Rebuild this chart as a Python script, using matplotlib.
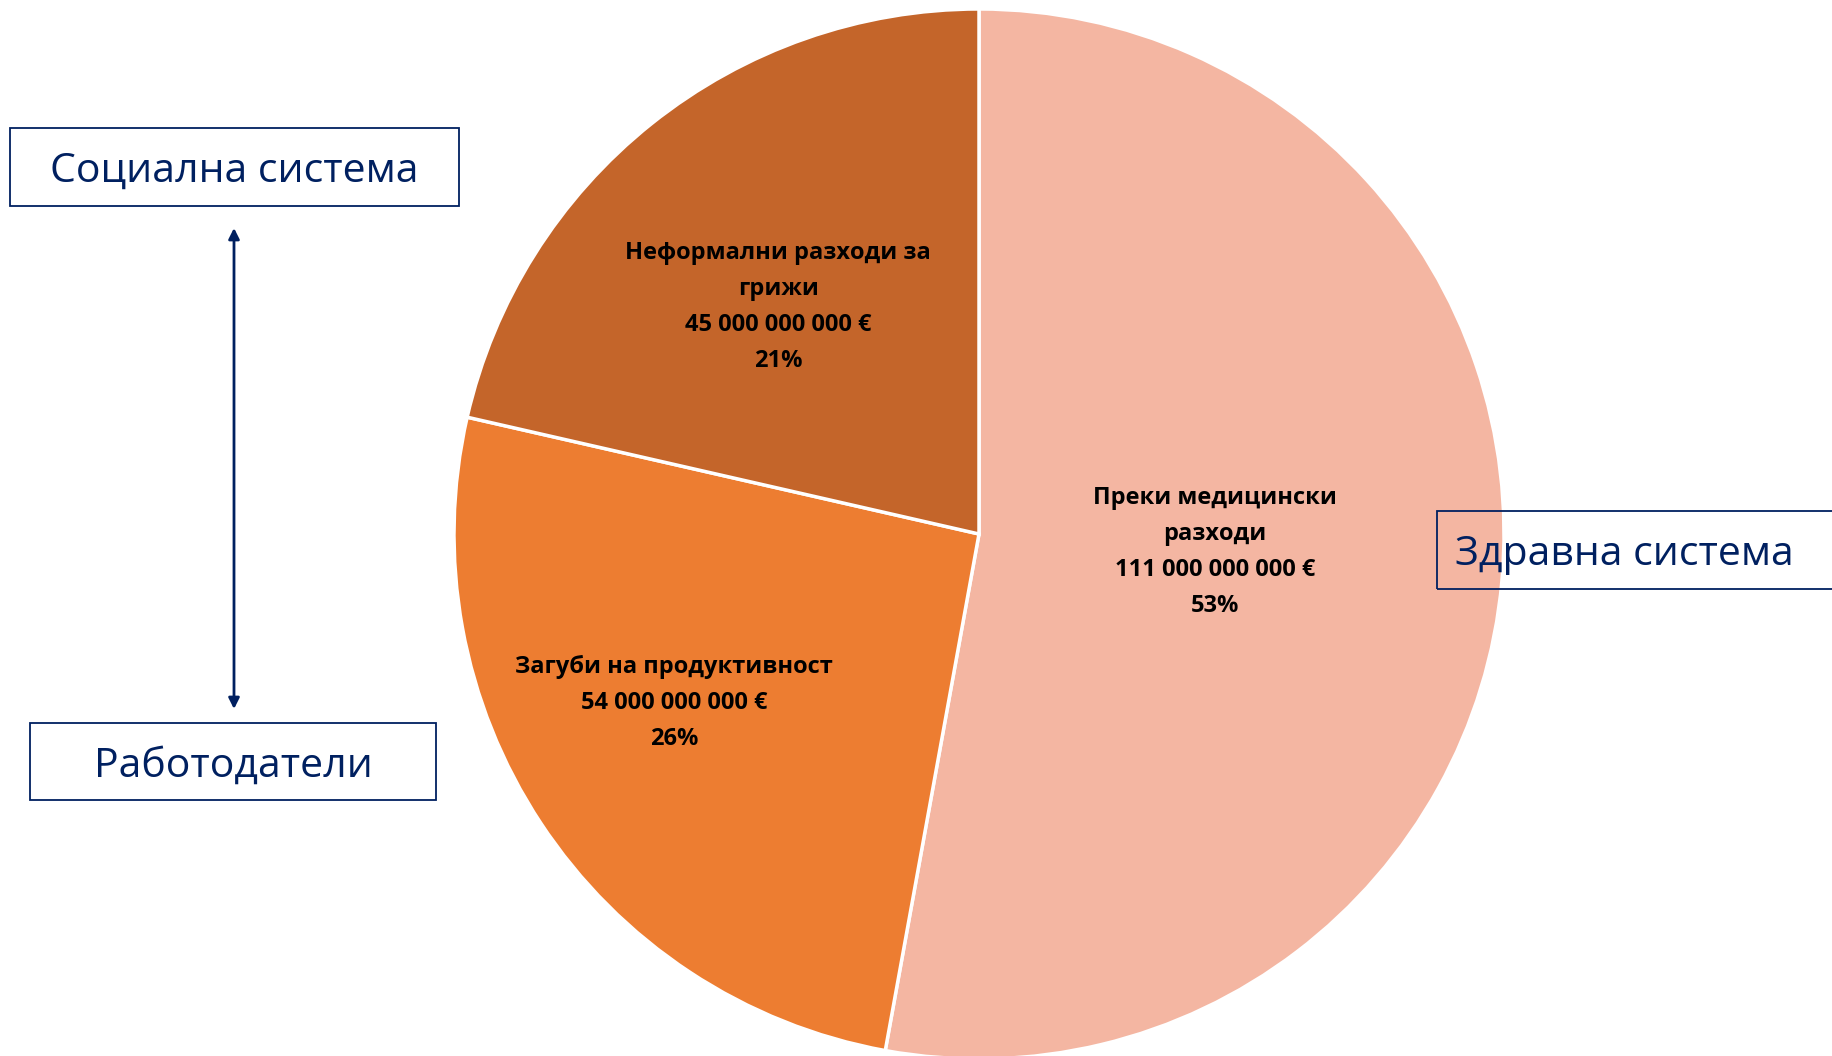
import numpy as np
import matplotlib
matplotlib.use('Agg')
import matplotlib.pyplot as plt
from matplotlib.patches import Rectangle

# data
categories = ['Преки медицински\nразходи', 'Загуби на продуктивност', 'Неформални разходи за\nгрижи']
values = [111e9, 54e9, 45e9]
colors = ['#F4B6A2', '#ED7D31', '#C4652A']
# label placement (Excel-style): fraction of radius, angle shift in degrees
label_r = [0.45, 0.663, 0.58]
label_da = [1.2, -4.7, 2.7]
boxes = ['Социална система', 'Работодатели', 'Здравна система']

plt.rcParams['font.family'] = ['Open Sans', 'DejaVu Sans']
navy = '#002060'

W, H = 1832, 1056
fig = plt.figure(figsize=(W / 100, H / 100), dpi=100)
ax = fig.add_axes([0, 0, 1, 1])

cx, cy, R = 979, H - 534, 525
wedges, _ = ax.pie(values, colors=colors, startangle=90, counterclock=False,
                   center=(cx, cy), radius=R, frame=True,
                   wedgeprops=dict(edgecolor='white', linewidth=2.5))
ax.set_xlim(0, W)
ax.set_ylim(0, H)
ax.axis('off')

total = sum(values)
for w, cat, v, fr, da in zip(wedges, categories, values, label_r, label_da):
    ang = np.deg2rad((w.theta1 + w.theta2) / 2 + da)
    x = cx + fr * R * np.cos(ang)
    y = cy + fr * R * np.sin(ang)
    amount = f'{int(v):,}'.replace(',', ' ') + ' €'
    pct = f'{round(100 * v / total)}%'
    ax.text(x, y - 2, f'{cat}\n{amount}\n{pct}', ha='center', va='center',
            fontsize=17, fontweight='bold', color='black', linespacing=1.66)

# boxes on the side
def box(x0, y0, x1, y1, label, tx, ha='center'):
    ax.add_patch(Rectangle((x0, H - y1), x1 - x0, y1 - y0, fill=False,
                           edgecolor=navy, linewidth=1.3, zorder=5))
    ax.text(tx, H - (y0 + y1) / 2 - 5, label, ha=ha, va='center',
            fontsize=29.5, color=navy, zorder=6)

box(10, 128, 459, 206, boxes[0], 234.5)
box(30, 723, 436, 800, boxes[1], 233)
box(1437, 511, 1850, 589, boxes[2], 1455, ha='left')

ax.annotate('', xy=(234, H - 709), xytext=(234, H - 228),
            arrowprops=dict(arrowstyle='<|-|>', color=navy, lw=2,
                            mutation_scale=16, shrinkA=0, shrinkB=0))

fig.savefig('out.png', dpi=100)
